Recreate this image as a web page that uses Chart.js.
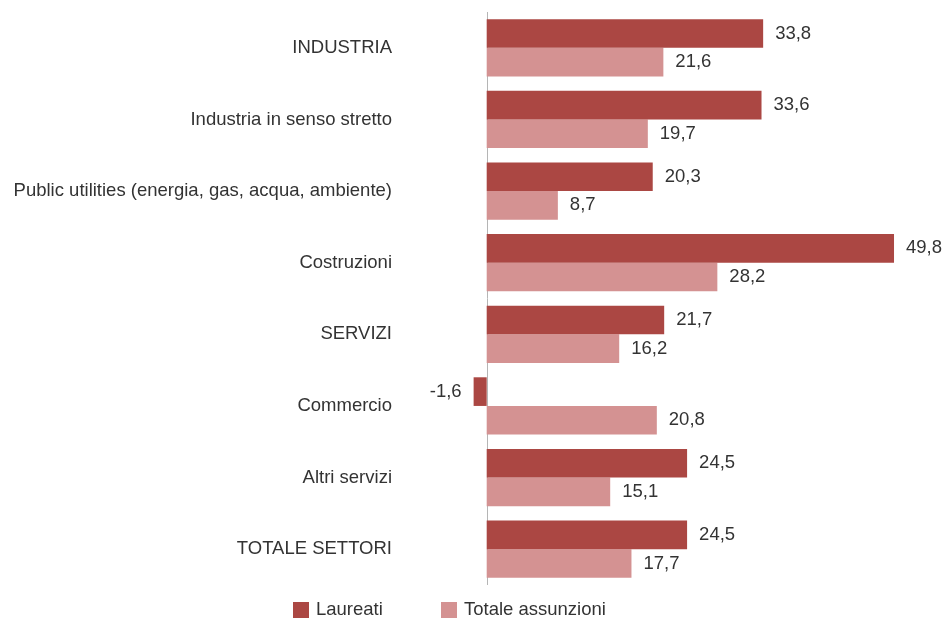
<!DOCTYPE html>
<html>
<head>
<meta charset="utf-8">
<script src="https://cdn.jsdelivr.net/npm/chart.js@4"></script>
<style>
  html, body { margin: 0; padding: 0; background: #fff; }
  #wrap { width: 950px; height: 619px; }
</style>
</head>
<body>
<div id="wrap"><canvas id="chart" width="950" height="619"></canvas></div>
<script>
// ---------- Data ----------
const categories = [
    'INDUSTRIA',
    'Industria in senso stretto',
    'Public utilities (energia, gas, acqua, ambiente)',
    'Costruzioni',
    'SERVIZI',
    'Commercio',
    'Altri servizi',
    'TOTALE SETTORI'
];
const laureati = [33.8, 33.6, 20.3, 49.8, 21.7, -1.6, 24.5, 24.5];
const totaleAssunzioni = [21.6, 19.7, 8.7, 28.2, 16.2, 20.8, 15.1, 17.7];
const seriesNames = ['Laureati', 'Totale assunzioni'];

const DARK = '#ab4743';
const LIGHT = '#d49292';
const FONT = '"Liberation Sans", Arial, sans-serif';
const FONT_SIZE = 18.5;
const TEXT = '#333333';

// ---------- Plugins ----------
const zeroLine = {
    id: 'zeroLine',
    beforeDatasetsDraw(chart) {
        const { ctx, chartArea, scales } = chart;
        const x = Math.round(scales.x.getPixelForValue(0)) + 0.5;
        ctx.save();
        ctx.strokeStyle = '#b5b5b5';
        ctx.lineWidth = 1;
        ctx.beginPath();
        ctx.moveTo(x, chartArea.top);
        ctx.lineTo(x, chartArea.bottom);
        ctx.stroke();
        ctx.restore();
    }
};

const valueLabels = {
    id: 'valueLabels',
    afterDatasetsDraw(chart) {
        const { ctx } = chart;
        ctx.save();
        ctx.font = FONT_SIZE + 'px ' + FONT;
        ctx.fillStyle = TEXT;
        ctx.textBaseline = 'middle';
        chart.data.datasets.forEach((ds, i) => {
            chart.getDatasetMeta(i).data.forEach((bar, j) => {
                const v = ds.data[j];
                const txt = v.toFixed(1).replace('.', ',');
                if (v >= 0) {
                    ctx.textAlign = 'left';
                    ctx.fillText(txt, bar.x + 12, bar.y);
                } else {
                    ctx.textAlign = 'right';
                    ctx.fillText(txt, bar.x - 12, bar.y);
                }
            });
        });
        ctx.restore();
    }
};

const bottomLegend = {
    id: 'bottomLegend',
    afterDraw(chart) {
        const { ctx } = chart;
        const items = [
            { label: seriesNames[0], color: DARK, x: 293 },
            { label: seriesNames[1], color: LIGHT, x: 441 }
        ];
        const y = 610;
        ctx.save();
        ctx.font = FONT_SIZE + 'px ' + FONT;
        ctx.textBaseline = 'middle';
        ctx.textAlign = 'left';
        items.forEach(it => {
            ctx.fillStyle = it.color;
            ctx.fillRect(it.x, y - 8, 16, 16);
            ctx.fillStyle = TEXT;
            ctx.fillText(it.label, it.x + 23, y);
        });
        ctx.restore();
    }
};

// ---------- Chart ----------
new Chart(document.getElementById('chart'), {
    type: 'bar',
    data: {
        labels: categories,
        datasets: [
            { label: seriesNames[0], data: laureati, backgroundColor: DARK },
            { label: seriesNames[1], data: totaleAssunzioni, backgroundColor: LIGHT }
        ]
    },
    options: {
        indexAxis: 'y',
        responsive: false,
        animation: false,
        categoryPercentage: 0.8,
        barPercentage: 1.0,
        layout: { padding: { top: 12, bottom: 34, right: 2, left: 0 } },
        plugins: {
            legend: { display: false },
            tooltip: { enabled: false }
        },
        scales: {
            x: {
                display: false,
                min: -10.6,
                max: 56.4
            },
            y: {
                grid: { display: false, drawTicks: false },
                border: { display: false },
                ticks: {
                    padding: 8,
                    color: TEXT,
                    font: { family: FONT, size: FONT_SIZE }
                },
                afterFit(scale) {
                    scale.width = 400;
                    scale.paddingTop = 0;
                    scale.paddingBottom = 0;
                }
            }
        }
    },
    plugins: [zeroLine, valueLabels, bottomLegend]
});
</script>
</body>
</html>
